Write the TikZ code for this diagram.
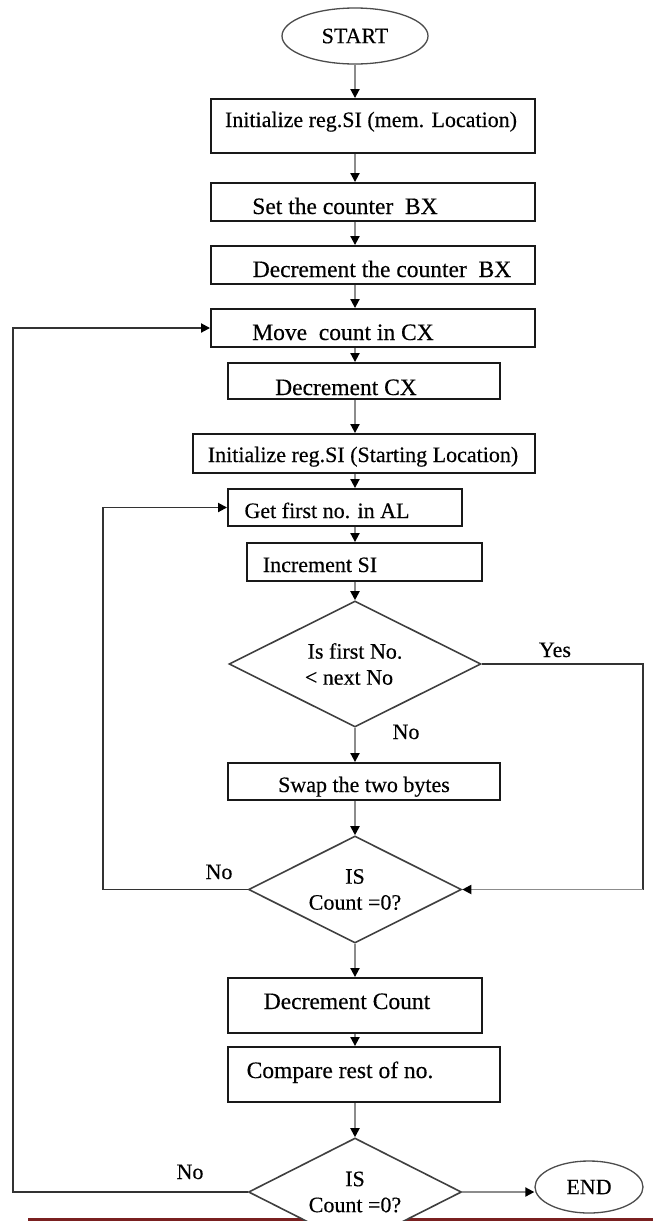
\documentclass[tikz,border=0pt]{standalone}
\usepackage{fontspec}
\setmainfont[FakeBold=0.35]{Liberation Serif}
\usetikzlibrary{shapes.geometric,arrows.meta}
\definecolor{rulered}{RGB}{122,32,32}
\begin{document}
\begin{tikzpicture}[x=1pt,y=-1pt,
  font=\fontsize{22}{26}\selectfont,
  box/.style={draw=black!90,line width=1.9pt,inner sep=0pt},
  txt/.style={inner sep=0pt,anchor=base},
  big/.style={font=\fontsize{23.5}{26}\selectfont},
  term/.style={ellipse,draw=black!70,line width=1.3pt,inner sep=0pt},
  decision/.style={diamond,shape aspect=2,draw=black!75,line width=1.6pt,fill=white,inner sep=0pt,align=center},
  tip/.style={-{Triangle[length=9pt,width=9pt,black]}},
  flow/.style={draw=black!45,line width=1.9pt,tip},
  loopline/.style={draw=black!80,line width=1.9pt},
  lbl/.style={inner sep=0pt,anchor=base}]

\clip (0,0) rectangle (653,1221);
\fill[white] (0,0) rectangle (653,1221);
% rule along the foot of the page
\draw[draw=rulered,line width=2.5pt] (28,1219.5) -- (653,1219.5);

\coordinate (axis) at (355,0);
\coordinate (outerL) at (13,0);
\coordinate (innerL) at (103,0);
\coordinate (yesR) at (643,0);

% terminals
\node[term,minimum width=146pt,minimum height=56pt] (start) at (355,36) {START};
\node[term,minimum width=108pt,minimum height=52pt] (end) at (589,1187) {END};

% process boxes and their texts
\node[box,minimum width=324pt,minimum height=54pt] (b1) at (373,126) {};
\node[txt] (t1) at (371,127) {Initialize reg.SI (mem. Location)};

\node[box,minimum width=324pt,minimum height=38pt] (b2) at (373,202) {};
\node[txt,big] (t2) at (345,214) {Set the counter\ \ BX};

\node[box,minimum width=324pt,minimum height=38pt] (b3) at (373,265) {};
\node[txt,big] (t3) at (382,277) {Decrement the counter\ \ BX};

\node[box,minimum width=324pt,minimum height=38pt] (b4) at (373,328) {};
\node[txt,big] (t4) at (343,340) {Move\ \ count in CX};

\node[box,minimum width=272pt,minimum height=36pt] (b5) at (364,381) {};
\node[txt,big] (t5) at (346,395) {Decrement CX};

\node[box,minimum width=342pt,minimum height=39pt] (b6) at (364,453.5) {};
\node[txt] (t6) at (363,462) {Initialize reg.SI (Starting Location)};

\node[box,minimum width=234pt,minimum height=37pt] (b7) at (345,507.5) {};
\node[txt] (t7) at (327,518) {Get first no. in AL};

\node[box,minimum width=235pt,minimum height=38pt] (b8) at (364.5,562) {};
\node[txt] (t8) at (320,572) {Increment SI};

\node[decision,minimum width=252pt,minimum height=126pt] (d1) at (355,664) {Is first No.\\\hspace*{-12pt}{<} next No};

\node[box,minimum width=272pt,minimum height=37pt] (b9) at (364,781.5) {};
\node[txt] (t9) at (364,792) {Swap the two bytes};

\node[decision,minimum width=213pt,minimum height=107pt] (d2) at (355,889.5) {IS\\Count =0?};

\node[box,minimum width=254pt,minimum height=55pt] (b10) at (355,1005.5) {};
\node[txt,big] (t10) at (347,1009) {Decrement Count};

\node[box,minimum width=272pt,minimum height=55pt] (b11) at (364,1074.5) {};
\node[txt,big] (t11) at (340,1078) {Compare rest of no.};

\node[decision,minimum width=213pt,minimum height=108pt] (d3) at (355,1192) {IS\\Count =0?};

% main column of connectors
\draw[flow] (start.south) -- (b1.north -| axis);
\draw[flow] (b1.south -| axis) -- (b2.north -| axis);
\draw[flow] (b2.south -| axis) -- (b3.north -| axis);
\draw[flow] (b3.south -| axis) -- (b4.north -| axis);
\draw[flow] (b4.south -| axis) -- (b5.north -| axis);
\draw[flow] (b5.south -| axis) -- (b6.north -| axis);
\draw[flow] (b6.south -| axis) -- (b7.north -| axis);
\draw[flow] (b7.south -| axis) -- (b8.north -| axis);
\draw[flow] (b8.south -| axis) -- (d1.north);
\draw[flow] (d1.south) -- (b9.north -| axis);
\draw[flow] (b9.south -| axis) -- (d2.north);
\draw[flow] (d2.south) -- (b10.north -| axis);
\draw[flow] (b10.south -| axis) -- (b11.north -| axis);
\draw[flow] (b11.south -| axis) -- (d3.north);
\draw[flow] (d3.east) -- (d3.east -| end.west);

% Yes branch
\draw[loopline] (d1.east) -- (d1.east -| yesR) -- (d2.east -| yesR);
\draw[flow] (d2.east -| yesR) -- (d2.east);

% inner loop back to "Get first no."
\draw[loopline,tip] (d2.west) -- (d2.west -| innerL) -- (b7.west -| innerL) -- (b7.west);

% outer loop back to "Move count"
\draw[loopline,tip] (d3.west) -- (d3.west -| outerL) -- (b4.west -| outerL) -- (b4.west);

% branch labels
\node[lbl] (yes1) at (555,657) {Yes};
\node[lbl] (no1) at (406,739) {No};
\node[lbl] (no2) at (219,879) {No};
\node[lbl] (no3) at (190,1179) {No};
\end{tikzpicture}
\end{document}
